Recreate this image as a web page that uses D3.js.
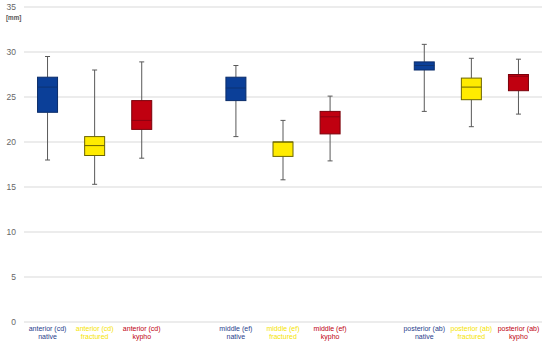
<!DOCTYPE html>
<html><head><meta charset="utf-8">
<script src="https://cdn.jsdelivr.net/npm/d3@7"></script>
<style>body{margin:0;background:#fff}text{font-family:Arial,"Liberation Sans",sans-serif}</style>
</head><body><svg id="c" width="550" height="347"></svg>
<script>
const slots = ["a_native","a_fract","a_kypho","gap1","m_native","m_fract","m_kypho","gap2","p_native","p_fract","p_kypho"];
const categories = ["a_native","a_fract","a_kypho","m_native","m_fract","m_kypho","p_native","p_fract","p_kypho"];
const labelLine1 = ["anterior (cd)","anterior (cd)","anterior (cd)","middle (ef)","middle (ef)","middle (ef)","posterior (ab)","posterior (ab)","posterior (ab)"];
const labelLine2 = ["native","fractured","kypho","native","fractured","kypho","native","fractured","kypho"];
const groupType = ["native","fractured","kypho","native","fractured","kypho","native","fractured","kypho"];
const whiskerLow = [18.0, 15.3, 18.2, 20.6, 15.8, 17.9, 23.4, 21.7, 23.1];
const q1 =         [23.3, 18.5, 21.4, 24.6, 18.4, 20.9, 28.0, 24.7, 25.7];
const median =     [26.1, 19.6, 22.4, 26.0, 20.0, 22.8, 28.5, 26.1, 27.3];
const q3 =         [27.2, 20.6, 24.6, 27.2, 20.0, 23.4, 28.9, 27.1, 27.5];
const whiskerHigh= [29.5, 28.0, 28.9, 28.5, 22.4, 25.1, 30.85, 29.3, 29.2];
const yTicks = [0,5,10,15,20,25,30,35];
const fillColor = {native:"#0b3f98", fractured:"#ffeb00", kypho:"#c00010"};
const strokeColor = {native:"#0a2c6a", fractured:"#6b6400", kypho:"#7a000a"};
const medianColor = {native:"#0d3373", fractured:"#6b6400", kypho:"#8a0010"};
const textColor = {native:"#1f3e8c", fractured:"#f5e400", kypho:"#c00010"};

(function(){
const svg = d3.select("#c");
const mL = 24, mR = 542, mT = 7, mB = 322;
const x = d3.scaleBand().domain(slots).range([mL, mR]).paddingInner(0).paddingOuter(0);
const y = d3.scaleLinear().domain([0,35]).range([mB, mT]);
const bw = 20;

svg.append("g").selectAll("line").data(yTicks).join("line")
  .attr("x1", mL).attr("x2", mR)
  .attr("y1", d=>y(d)).attr("y2", d=>y(d))
  .attr("stroke", "#d9d9d9").attr("stroke-width",1.2);
svg.append("g").selectAll("text").data(yTicks).join("text")
  .attr("x", 16).attr("y", d=>y(d)+3)
  .attr("text-anchor","end").attr("font-size",8.5).attr("fill","#666")
  .text(d=>d);
svg.append("text").attr("x",6).attr("y",20).attr("font-size",6.3).attr("font-weight","bold").attr("fill","#555").text("[mm]");

const g = svg.append("g");
categories.forEach((c,i)=>{
  const cx = x(c) + x.bandwidth()/2;
  const t = groupType[i];
  g.append("line").attr("x1",cx).attr("x2",cx).attr("y1",y(whiskerHigh[i])).attr("y2",y(q3[i])).attr("stroke","#595959").attr("stroke-width",1);
  g.append("line").attr("x1",cx).attr("x2",cx).attr("y1",y(q1[i])).attr("y2",y(whiskerLow[i])).attr("stroke","#595959").attr("stroke-width",1);
  [whiskerHigh[i], whiskerLow[i]].forEach(v=>{
    g.append("line").attr("x1",cx-2.5).attr("x2",cx+2.5).attr("y1",y(v)).attr("y2",y(v)).attr("stroke","#595959").attr("stroke-width",1);
  });
  g.append("rect").attr("x",cx-bw/2).attr("width",bw)
    .attr("y",y(q3[i])).attr("height",Math.max(1,y(q1[i])-y(q3[i])))
    .attr("fill",fillColor[t]).attr("stroke",strokeColor[t]).attr("stroke-width",1);
  g.append("line").attr("x1",cx-bw/2).attr("x2",cx+bw/2).attr("y1",y(median[i])).attr("y2",y(median[i]))
    .attr("stroke",medianColor[t]).attr("stroke-width",1);
  const tx = svg.append("text").attr("text-anchor","middle").attr("font-size",7).attr("fill",textColor[t]);
  tx.append("tspan").attr("x",cx).attr("y",331).text(labelLine1[i]);
  tx.append("tspan").attr("x",cx).attr("y",338.5).text(labelLine2[i]);
});
})();
</script></body></html>
